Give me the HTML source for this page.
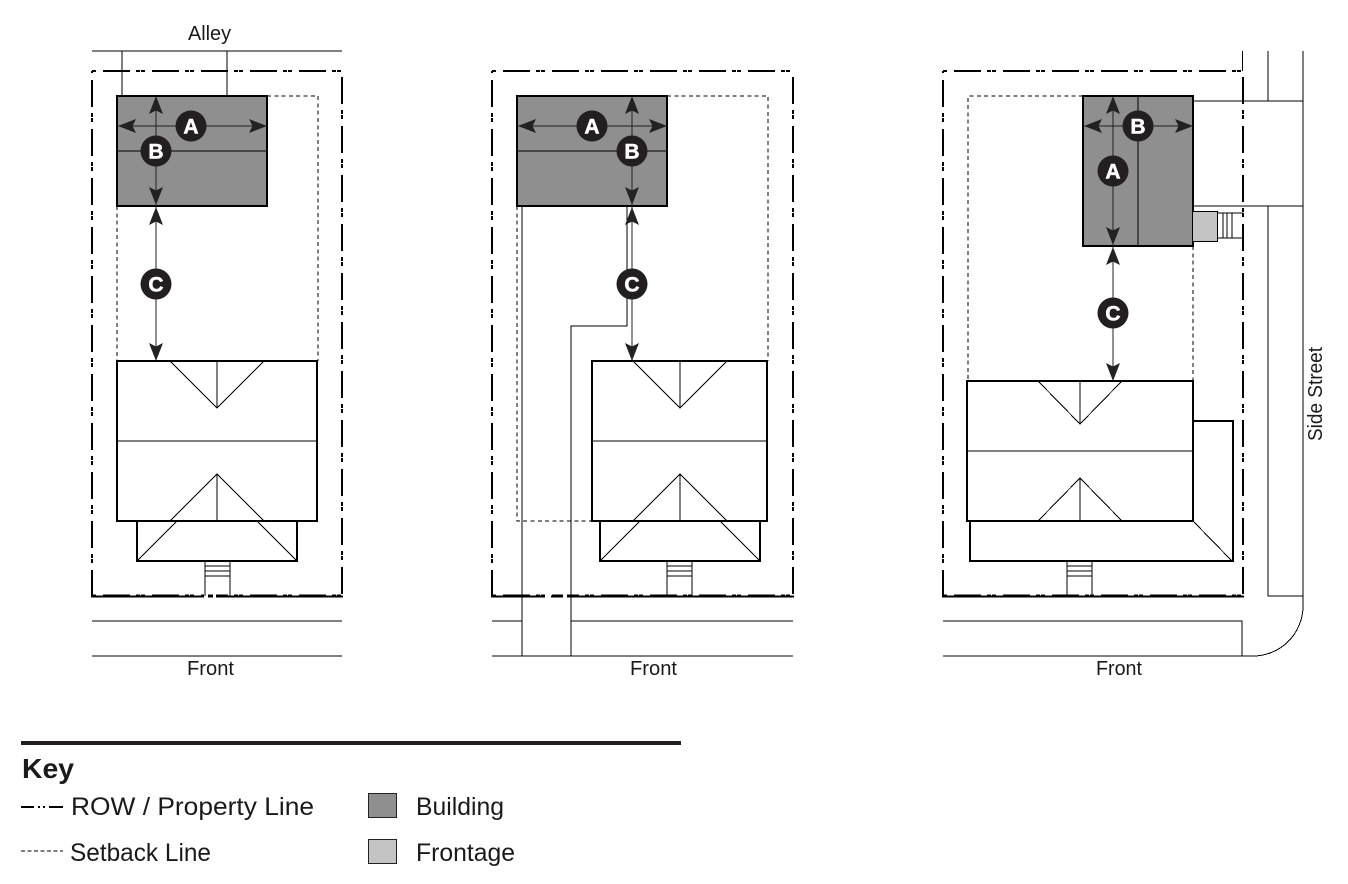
<!DOCTYPE html>
<html><head><meta charset="utf-8"><style>
html,body{margin:0;padding:0;background:#fff}
svg{display:block}
text{font-family:"Liberation Sans",sans-serif;fill:#1a1a1a}
path,rect,line{shape-rendering:crispEdges}
.t{stroke:#000;stroke-width:1;fill:none}
.h{stroke:#000;stroke-width:2;fill:none}
.n{stroke:#000;stroke-width:1;fill:none}
.a{stroke:#222;stroke-width:1;fill:none}
.rt{stroke:#000;stroke-width:2;fill:none;stroke-dasharray:27 6 4 1 4 7}
.b{stroke:#000;stroke-width:2;fill:none}
.bd{stroke:#000;stroke-width:1;fill:none;stroke-dasharray:27 6 4 1 4 7}
.s{stroke:#000;stroke-width:1;fill:none;stroke-dasharray:4 3.3}
.c{font-weight:bold;font-size:21px;fill:#fff;text-anchor:middle;stroke:#fff;stroke-width:.5}
.l{font-size:20px;text-anchor:middle}
.k{font-size:25px}
</style></head><body>
<svg width="1348" height="884" viewBox="0 0 1348 884" xmlns="http://www.w3.org/2000/svg">
<defs>
<path id="ah" d="M0,0 L-18,-7 L-14.5,0 L-18,7 Z" fill="#222" style="shape-rendering:auto"/>
<g id="d"><circle r="15.500" fill="#231f20"/></g>
</defs>
<rect width="1348" height="884" fill="#fff"/>

<!-- Panel 1 -->
<path class="t" d="M92,51H342M122,51V96M227,51V96M92,621H342M92,656H342"/>
<path class="s" d="M267,96H318V361M117,206V361"/>
<path class="rt" stroke-dashoffset="38" d="M92,71H342"/>
<path class="rt" stroke-dashoffset="40" d="M92,71V596"/>
<path class="rt" stroke-dashoffset="43" d="M342,71V596"/>
<path class="b" d="M91,596.500H343"/><path class="bd" stroke-dashoffset="38" d="M92,595H342"/>
<rect x="204" y="594" width="4" height="5" fill="#fff"/><rect x="213" y="594" width="3" height="5" fill="#fff"/>
<rect x="117" y="96" width="150" height="110" fill="#8f8f8f" stroke="#000" stroke-width="2"/>
<path class="t" d="M117,151H267"/>
<path class="a" d="M118,126H267M156,97V360"/>
<use href="#ah" transform="translate(118,126) rotate(180)"/><use href="#ah" transform="translate(267,126)"/>
<use href="#ah" transform="translate(156,96) rotate(-90)"/><use href="#ah" transform="translate(156,205) rotate(90)"/>
<use href="#ah" transform="translate(156,207) rotate(-90)"/><use href="#ah" transform="translate(156,361) rotate(90)"/>
<use href="#d" x="191" y="126"/><text class="c" x="191" y="133.500">A</text>
<use href="#d" x="156" y="151"/><text class="c" x="156" y="158.500">B</text>
<use href="#d" x="156" y="284"/><text class="c" x="156" y="291.500">C</text>
<rect class="h" x="117" y="361" width="200" height="160"/>
<path class="n" d="M117,441H317M170,361L217,408L264,361M217,361V408M170,521L217,474L264,521M217,474V521"/>
<rect class="h" x="137" y="521" width="160" height="40"/>
<path class="n" d="M137,561L177,521M297,561L257,521"/>
<path class="t" d="M205,561V596M230,561V596M205,566H230M205,571H230M205,576H230"/>

<!-- Panel 2 -->
<path class="t" d="M492,621H522M571,621H793M492,656H793M522,206V656M571,656V326H627V206"/>
<path class="s" d="M667,96H768V361M517,206V521H592"/>
<path class="rt" stroke-dashoffset="38" d="M492,71H793"/>
<path class="rt" stroke-dashoffset="40" d="M492,71V596"/>
<path class="rt" stroke-dashoffset="43" d="M793,71V596"/>
<path class="b" d="M491,596.500H794"/><path class="bd" stroke-dashoffset="38" d="M492,595H793"/>
<rect x="545" y="594" width="6" height="5" fill="#fff"/><rect x="563" y="594" width="4" height="5" fill="#fff"/>
<rect x="517" y="96" width="150" height="110" fill="#8f8f8f" stroke="#000" stroke-width="2"/>
<path class="t" d="M517,151H667"/>
<path class="a" d="M518,126H667M632,97V360"/>
<use href="#ah" transform="translate(518,126) rotate(180)"/><use href="#ah" transform="translate(667,126)"/>
<use href="#ah" transform="translate(632,96) rotate(-90)"/><use href="#ah" transform="translate(632,205) rotate(90)"/>
<use href="#ah" transform="translate(632,207) rotate(-90)"/><use href="#ah" transform="translate(632,361) rotate(90)"/>
<use href="#d" x="592" y="126"/><text class="c" x="592" y="133.500">A</text>
<use href="#d" x="632" y="151"/><text class="c" x="632" y="158.500">B</text>
<use href="#d" x="632" y="284"/><text class="c" x="632" y="291.500">C</text>
<rect class="h" x="592" y="361" width="175" height="160"/>
<path class="n" d="M592,441H767M633,361L680,408L727,361M680,361V408M633,521L680,474L727,521M680,474V521"/>
<rect class="h" x="600" y="521" width="160" height="40"/>
<path class="n" d="M600,561L640,521M760,561L720,521"/>
<path class="t" d="M667,561V596M692,561V596M667,566H692M667,571H692M667,576H692"/>

<!-- Panel 3 -->
<path class="t" d="M943,621H1242V656M943,656H1253A50,50 0 0 0 1303,606V51M1268,51V101M1268,206V596H1303M1193,101H1303M1193,206H1303"/>
<path class="s" d="M1083,96H968V381M1193,246V381"/>
<path class="rt" stroke-dashoffset="38" d="M943,71H1243"/>
<path class="rt" stroke-dashoffset="40" d="M943,71V596"/>
<path class="rt" stroke-dashoffset="43" d="M1243,71V596"/>
<path class="t" d="M1242.500,51V71"/>
<path class="b" d="M942,596.500H1244"/><path class="bd" stroke-dashoffset="38" d="M943,595H1243"/>
<rect x="1083" y="96" width="110" height="150" fill="#8f8f8f" stroke="#000" stroke-width="2"/>
<path class="t" d="M1138,96V246"/>
<path class="a" d="M1084,126H1193M1113,97V380"/>
<use href="#ah" transform="translate(1084,126) rotate(180)"/><use href="#ah" transform="translate(1193,126)"/>
<use href="#ah" transform="translate(1113,96) rotate(-90)"/><use href="#ah" transform="translate(1113,245) rotate(90)"/>
<use href="#ah" transform="translate(1113,247) rotate(-90)"/><use href="#ah" transform="translate(1113,381) rotate(90)"/>
<use href="#d" x="1138" y="126"/><text class="c" x="1138" y="133.500">B</text>
<use href="#d" x="1113" y="171"/><text class="c" x="1113" y="178.500">A</text>
<use href="#d" x="1113" y="313"/><text class="c" x="1113" y="320.500">C</text>
<rect x="1192.500" y="211.500" width="25" height="30" fill="#c4c4c4" stroke="#000" stroke-width="1"/>
<path class="t" d="M1217,213H1243M1217,238H1243M1223,213V238M1227,213V238M1232,213V238"/>
<rect class="h" x="967" y="381" width="226" height="140"/>
<path class="n" d="M967,451H1193M1038,381L1080,424L1122,381M1080,381V424M1038,521L1080,478L1122,521M1080,478V521"/>
<path class="h" d="M1193,421H1233V561H970V521"/>
<path class="n" d="M1193,521L1232,561"/>
<path class="t" d="M1067,561V596M1092,561V596M1067,566H1092M1067,571H1092M1067,576H1092"/>

<!-- Labels -->
<text class="l" x="188" y="40" style="text-anchor:start" textLength="43" lengthAdjust="spacingAndGlyphs">Alley</text>
<text class="l" x="187" y="675" style="text-anchor:start" textLength="47" lengthAdjust="spacingAndGlyphs">Front</text>
<text class="l" x="630" y="675" style="text-anchor:start" textLength="47" lengthAdjust="spacingAndGlyphs">Front</text>
<text class="l" x="1096" y="675" style="text-anchor:start" textLength="46" lengthAdjust="spacingAndGlyphs">Front</text>
<text class="l" style="text-anchor:start" transform="translate(1322,441) rotate(-90)" textLength="94" lengthAdjust="spacingAndGlyphs">Side Street</text>

<!-- Key -->
<rect x="21" y="741" width="660" height="4" fill="#231f20"/>
<text x="22" y="778" font-size="28" font-weight="bold" textLength="52" lengthAdjust="spacingAndGlyphs">Key</text>
<path stroke="#000" stroke-width="2" fill="none" d="M21,807H34M38,807H40M43,807H45M49,807H63"/>
<text class="k" x="71" y="815" textLength="243" lengthAdjust="spacingAndGlyphs">ROW / Property Line</text>
<path stroke="#000" stroke-width="1" fill="none" stroke-dasharray="4 2.500" d="M21,851H63"/>
<text class="k" x="70" y="861" textLength="141" lengthAdjust="spacingAndGlyphs">Setback Line</text>
<rect x="368.500" y="793.500" width="28" height="24" fill="#8f8f8f" stroke="#222"/>
<rect x="368.500" y="839.500" width="28" height="24" fill="#c4c4c4" stroke="#222"/>
<text class="k" x="416" y="815" textLength="88" lengthAdjust="spacingAndGlyphs">Building</text>
<text class="k" x="416" y="861" textLength="99" lengthAdjust="spacingAndGlyphs">Frontage</text>
</svg>
</body></html>
